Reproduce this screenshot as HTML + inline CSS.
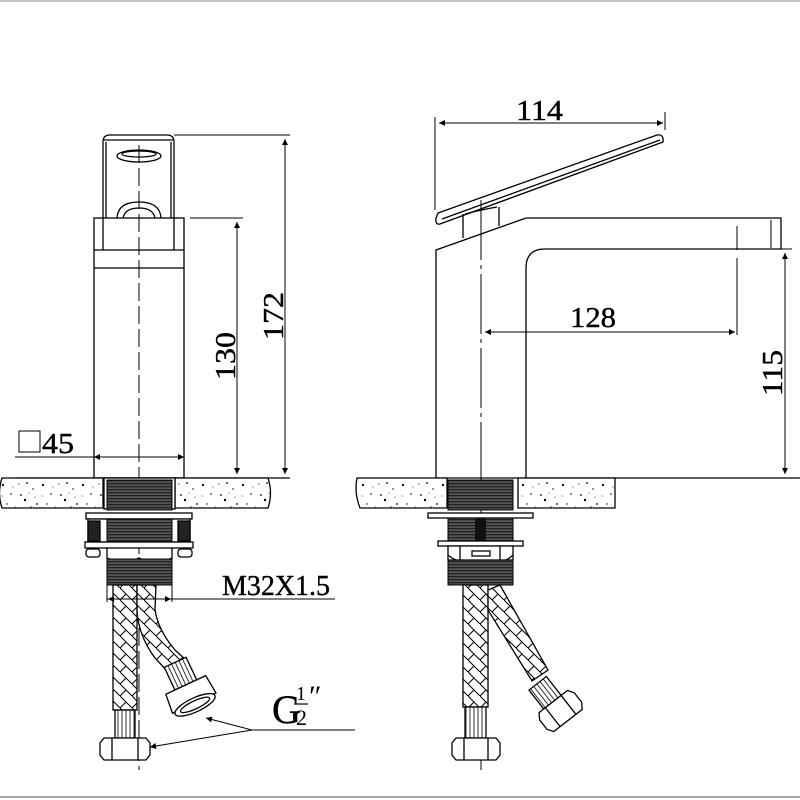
<!DOCTYPE html>
<html><head><meta charset="utf-8"><style>
html,body{margin:0;padding:0;background:#fff;width:800px;height:800px;overflow:hidden}
svg{display:block}
text{font-family:"Liberation Serif",serif;fill:#000}
</style></head><body>
<svg width="800" height="800" viewBox="0 0 800 800" xmlns="http://www.w3.org/2000/svg">
<defs>
<pattern id="stone" width="40" height="30" patternUnits="userSpaceOnUse">
<rect width="40" height="30" fill="#fff"/>
<g fill="#000">
<circle cx="3" cy="5" r="1.1"/><circle cx="11" cy="14" r="0.8"/><circle cx="19" cy="4" r="0.6"/><circle cx="25" cy="20" r="1.2"/><circle cx="33" cy="9" r="0.7"/><circle cx="37" cy="24" r="0.9"/><circle cx="7" cy="24" r="0.7"/><circle cx="15" cy="27" r="0.5"/><circle cx="29" cy="13" r="0.5"/><circle cx="21" cy="15" r="0.9"/><circle cx="2" cy="16" r="0.5"/><circle cx="35" cy="17" r="0.5"/><circle cx="13" cy="7" r="0.5"/><circle cx="27" cy="3" r="0.9"/><circle cx="31" cy="27" r="0.6"/>
</g></pattern>
<pattern id="thread" width="10" height="3" patternUnits="userSpaceOnUse">
<rect width="10" height="3" fill="#555"/><rect y="0" width="10" height="1.3" fill="#222"/>
</pattern>
<pattern id="braid" width="12" height="12" patternUnits="userSpaceOnUse">
<rect width="12" height="12" fill="#fff"/>
<path d="M0 0L12 12M0 12L6 6" stroke="#000" stroke-width="1" fill="none"/>
</pattern>
<pattern id="ferrule" width="4" height="10" patternUnits="userSpaceOnUse">
<rect width="4" height="10" fill="#fff"/><line x1="2" y1="0" x2="2" y2="10" stroke="#000" stroke-width="0.8"/>
</pattern>
<marker id="ar" viewBox="0 0 10 10" refX="10" refY="5" markerWidth="14" markerHeight="6" markerUnits="userSpaceOnUse" orient="auto-start-reverse"><path d="M0 0L10 5L0 10z" fill="#000"/></marker>
</defs>

<line x1="0" y1="1" x2="800" y2="1" stroke="#888" stroke-width="1"/>
<line x1="0" y1="797" x2="800" y2="797" stroke="#888" stroke-width="1.5"/>

<g stroke="#000" stroke-width="1.3" fill="none">
<!-- LEFT VIEW -->
<path d="M103 218V142Q103 135 110 135H167Q174 135 174 142V218"/>
<path d="M106 218V142M171 218V142M104 140H173"/>
<ellipse cx="139" cy="156" rx="22" ry="6"/><ellipse cx="139" cy="154" rx="17" ry="3"/>
<path d="M117 218Q118 202 139 202Q160 202 161 218"/><path d="M123 218Q125 208 139 208Q153 208 155 218"/>
<rect x="94" y="218" width="90" height="260" fill="#fff"/>
<line x1="94" y1="250" x2="184" y2="250"/><line x1="94" y1="268" x2="184" y2="268"/>
<line x1="103" y1="218" x2="103" y2="250"/><line x1="174" y1="218" x2="174" y2="250"/>
<line x1="139" y1="145" x2="139" y2="770" stroke-dasharray="18 5" stroke-width="1"/>
<!-- dims -->
<line x1="190" y1="218" x2="243" y2="218" stroke-width="1"/>
<line x1="237" y1="222" x2="237" y2="474" stroke-width="1" marker-start="url(#ar)" marker-end="url(#ar)"/>
<line x1="174" y1="135" x2="290" y2="135" stroke-width="1"/>
<line x1="285" y1="139" x2="285" y2="474" stroke-width="1" marker-start="url(#ar)" marker-end="url(#ar)"/>
<line x1="15" y1="478" x2="290" y2="478" stroke-width="1.2"/>
<line x1="15" y1="457" x2="184" y2="457" stroke-width="1"/>
<line x1="112" y1="457" x2="94" y2="457" stroke-width="1" marker-end="url(#ar)"/>
<line x1="166" y1="457" x2="184" y2="457" stroke-width="1" marker-end="url(#ar)"/>
<rect x="19" y="431" width="21" height="21" stroke-width="1"/>
<!-- countertop -->
<path d="M2 478H103V508H2Q-3 493 2 478Z" fill="url(#stone)"/>
<path d="M175 478H268Q273 493 268 508H175Z" fill="url(#stone)"/>
<rect x="104" y="478" width="71" height="31" fill="#fff"/>
<rect x="107" y="480" width="65" height="30" fill="url(#thread)" stroke-width="1"/>
<rect x="86" y="513" width="106" height="6" fill="#fff"/>
<rect x="88" y="519" width="102" height="23" fill="#fff"/>
<rect x="88" y="521" width="12" height="20" fill="#222"/><rect x="178" y="521" width="12" height="20" fill="#222"/>
<rect x="107" y="519" width="65" height="23" fill="url(#thread)" stroke-width="1"/>
<rect x="85" y="542" width="108" height="6" fill="#fff"/>
<rect x="86" y="549" width="14" height="8" rx="3" fill="#fff"/><rect x="178" y="549" width="14" height="8" rx="3" fill="#fff"/>
<path d="M107 548V558Q123 566 139 558Q155 566 172 558V548"/>
<rect x="107" y="559" width="65" height="26" fill="url(#thread)" stroke-width="1"/>
<!-- hoses left -->
<rect x="113" y="585" width="24" height="125" fill="url(#braid)"/>
<path d="M137 585L156 585L155 610Q158 630 175 650L186 660L168 672L155 658Q138 635 137 610Z" fill="url(#braid)"/>
<rect x="115" y="710" width="20" height="28" fill="url(#ferrule)"/>
<path d="M104 738H146L150 743V755L146 760H104L100 755V743Z" fill="#fff"/><line x1="112" y1="738" x2="112" y2="760"/><line x1="138" y1="738" x2="138" y2="760"/>
<g transform="rotate(-25 190 694)">
<rect x="178" y="659" width="24" height="25" fill="url(#ferrule)"/>
<path d="M168 684H212L214 704H166Z" fill="#fff"/>
<ellipse cx="190" cy="706" rx="22" ry="7" fill="#fff"/><ellipse cx="190" cy="706" rx="16" ry="4"/>
</g>
<line x1="107" y1="585" x2="107" y2="602" stroke-width="1"/><line x1="172" y1="585" x2="172" y2="602" stroke-width="1"/>
<line x1="107" y1="599" x2="335" y2="599" stroke-width="1"/>
<line x1="127" y1="599" x2="108" y2="599" stroke-width="1" marker-end="url(#ar)"/>
<line x1="155" y1="599" x2="171" y2="599" stroke-width="1" marker-end="url(#ar)"/>
<line x1="252" y1="730" x2="355" y2="730" stroke-width="1"/>
<line x1="252" y1="730" x2="206" y2="718" stroke-width="1" marker-end="url(#ar)"/>
<line x1="252" y1="730" x2="150" y2="747" stroke-width="1" marker-end="url(#ar)"/>

<!-- RIGHT VIEW -->
<line x1="435" y1="117" x2="435" y2="210" stroke-width="1"/>
<line x1="665" y1="112" x2="665" y2="130" stroke-width="1"/>
<line x1="439" y1="123" x2="663" y2="123" stroke-width="1" marker-start="url(#ar)" marker-end="url(#ar)"/>
<path d="M438 213L657 135Q664 134 663 142L440 224Q435 225 436 218Z" fill="#fff"/>
<path d="M442 219L660 140"/>
<path d="M463 214L463 238M499 207L499 226M465 214Q480 210 497 207"/>
<path d="M436 478V250L526 218H781V249H545Q526 249 526 268V478" fill="#fff"/>
<line x1="771" y1="220" x2="771" y2="248" stroke-width="1"/>
<line x1="737" y1="226" x2="737" y2="250" stroke-width="1"/>
<line x1="737" y1="258" x2="737" y2="335" stroke-width="1"/>
<line x1="481" y1="200" x2="481" y2="770" stroke-dasharray="60 5 4 5" stroke-width="1"/>
<line x1="485" y1="332" x2="735" y2="332" stroke-width="1" marker-start="url(#ar)" marker-end="url(#ar)"/>
<line x1="781" y1="249" x2="792" y2="249" stroke-width="1"/>
<line x1="785" y1="253" x2="785" y2="474" stroke-width="1" marker-start="url(#ar)" marker-end="url(#ar)"/>
<line x1="436" y1="478" x2="800" y2="478" stroke-width="1.2"/>
<path d="M357 478H447V508H360Q354 493 357 478Z" fill="url(#stone)"/>
<path d="M518 478H615V508H518Z" fill="url(#stone)"/>
<rect x="448" y="480" width="65" height="30" fill="url(#thread)" stroke-width="1"/>
<rect x="428" y="513" width="105" height="5" fill="#fff"/>
<rect x="448" y="518" width="65" height="23" fill="url(#thread)" stroke-width="1"/>
<rect x="475" y="518" width="11" height="23" fill="#111" stroke="none"/>
<rect x="438" y="541" width="85" height="5" fill="#fff"/>
<path d="M448 546H513V560H448Z" fill="#fff"/>
<path d="M460 546V560M500 546V560M448 555Q456 562 462 560M513 555Q506 562 500 560"/>
<rect x="472" y="551" width="18" height="5" fill="#fff"/>
<rect x="448" y="560" width="65" height="25" fill="url(#thread)" stroke-width="1"/>
<rect x="463" y="585" width="25" height="122" fill="url(#braid)"/>
<path d="M488 590L500 585L548 670L532 681L488 610Z" fill="url(#braid)"/>
<g transform="rotate(-38 552 700)">
<rect x="540" y="678" width="22" height="24" fill="url(#ferrule)"/>
<path d="M534 702H570L574 708V720L570 726H534L530 720V708Z" fill="#fff"/>
<line x1="542" y1="702" x2="542" y2="726"/><line x1="562" y1="702" x2="562" y2="726"/>
</g>
<rect x="465" y="707" width="21" height="31" fill="url(#ferrule)"/>
<path d="M456 738H496L500 743V755L496 760H456L452 755V743Z" fill="#fff"/><line x1="464" y1="738" x2="464" y2="760"/><line x1="488" y1="738" x2="488" y2="760"/>
</g>

<g font-size="29" stroke="#000" stroke-width="0.4">
<text x="42" y="453" textLength="32" lengthAdjust="spacingAndGlyphs">45</text>
<text transform="translate(235 380) rotate(-90)" textLength="48" lengthAdjust="spacingAndGlyphs">130</text>
<text transform="translate(283 340) rotate(-90)" textLength="48" lengthAdjust="spacingAndGlyphs">172</text>
<text x="516" y="120" textLength="47" lengthAdjust="spacingAndGlyphs">114</text>
<text x="570" y="327" textLength="46" lengthAdjust="spacingAndGlyphs">128</text>
<text transform="translate(782 396) rotate(-90)" textLength="46" lengthAdjust="spacingAndGlyphs">115</text>
<text x="222" y="595" font-size="29" textLength="108" lengthAdjust="spacingAndGlyphs">M32X1.5</text>
</g>
<text x="272" y="723" font-size="40" stroke="#000" stroke-width="0.4">G</text>
<text x="296" y="700" font-size="20">1</text>
<line x1="294" y1="704" x2="308" y2="704" stroke="#000" stroke-width="1.2"/>
<text x="296" y="725" font-size="22">2</text>
<text x="309" y="706" font-size="30">″</text>
</svg>
</body></html>
